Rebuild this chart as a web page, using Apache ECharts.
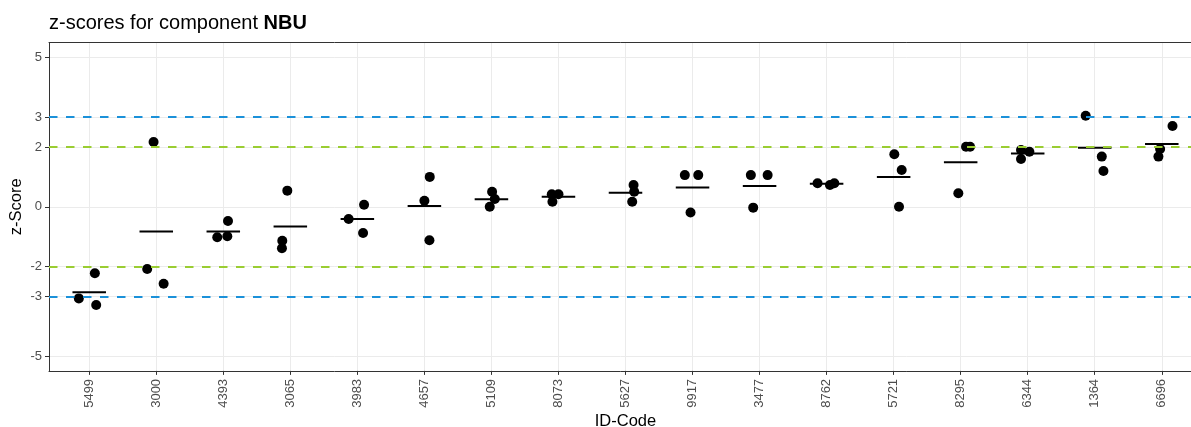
<!DOCTYPE html>
<html>
<head>
<meta charset="utf-8">
<script src="https://cdn.jsdelivr.net/npm/echarts@6/dist/echarts.min.js"></script>
<style>
html,body{margin:0;padding:0;background:#fff;}
#chart{width:1191px;height:427px;}
</style>
</head>
<body>
<div id="chart"></div>
<script>
// ---- data ----
const ids = ['5499','3000','4393','3065','3983','4657','5109','8073','5627','9917','3477','8762','5721','8295','6344','1364','6696'];
const zScores = [
  [-3.07, -2.23, -3.29],
  [-2.085, -2.58, 2.17],
  [-1.02, -0.99, -0.48],
  [0.54, -1.14, -1.39],
  [-0.41, 0.07, -0.88],
  [1.0, 0.20, -1.12],
  [0.50, 0.26, 0.0],
  [0.42, 0.42, 0.17],
  [0.73, 0.50, 0.17],
  [1.06, 1.06, -0.19],
  [1.06, 1.06, -0.03],
  [0.785, 0.73, 0.785],
  [1.76, 1.23, 0.0],
  [2.01, 2.01, 0.45],
  [1.90, 1.845, 1.60],
  [3.05, 1.68, 1.20],
  [2.705, 1.935, 1.68]
];
// horizontal jitter of each point, in category units
const jitter = [
  [-0.155, 0.084, 0.104],
  [-0.135, 0.11, -0.04],
  [-0.09, 0.06, 0.07],
  [-0.045, -0.12, -0.125],
  [-0.13, 0.10, 0.085],
  [0.08, 0.0, 0.075],
  [0.01, 0.05, -0.025],
  [-0.10, 0.0, -0.09],
  [0.12, 0.13, 0.10],
  [-0.115, 0.085, -0.03],
  [-0.13, 0.12, -0.095],
  [-0.135, 0.05, 0.115],
  [0.01, 0.12, 0.08],
  [0.08, 0.14, -0.035],
  [-0.10, 0.025, -0.10],
  [-0.135, 0.105, 0.13],
  [0.16, -0.025, -0.05]
];
const warnLimits = [-2, 2];
const actionLimits = [-3, 3];
const yTicks = [-5, -3, -2, 0, 2, 3, 5];
const titleText = 'z-scores for component ';
const componentName = 'NBU';

// ---- derived ----
const xPositions = ids.map((_, i) => i + 1);
const points = [];
zScores.forEach((vals, i) => vals.forEach((v, j) => points.push([xPositions[i] + jitter[i][j], v])));
const means = zScores.map((vals, i) => [xPositions[i], vals.reduce((a, b) => a + b, 0) / vals.length]);

const FONT = '"Liberation Sans", Arial, sans-serif';
const BORDER = '#333333';
const chart = echarts.init(document.getElementById('chart'), null, {renderer: 'canvas'});
chart.setOption({
  animation: false,
  backgroundColor: '#ffffff',
  title: {
    text: '{a|' + titleText + '}{b|' + componentName + '}',
    left: 44, top: 8,
    textStyle: {
      fontFamily: FONT, fontSize: 20, color: '#000', fontWeight: 'normal',
      rich: {
        a: {fontFamily: FONT, fontSize: 20, color: '#000', fontWeight: 'normal'},
        b: {fontFamily: FONT, fontSize: 20, color: '#000', fontWeight: 'bold'}
      }
    }
  },
  grid: {
    left: 49, top: 42.6, width: 1153, height: 328.3,
    outerBoundsMode: 'none', containLabel: false, show: false
  },
  xAxis: [{
    type: 'value', min: 0.4, max: 17.6, position: 'bottom',
    name: 'ID-Code', nameLocation: 'middle', nameGap: 42, nameMoveOverlap: false,
    nameTextStyle: {fontFamily: FONT, fontSize: 16.5, color: '#000'},
    axisLine: {show: true, onZero: false, lineStyle: {color: BORDER, width: 1}},
    axisTick: {show: true, customValues: xPositions, length: 4, lineStyle: {color: BORDER, width: 1}},
    axisLabel: {
      customValues: xPositions, rotate: 90, margin: 8,
      fontFamily: FONT, fontSize: 13, color: '#4D4D4D',
      formatter: v => ids[Math.round(v) - 1]
    },
    splitLine: {show: true, lineStyle: {color: '#EBEBEB', width: 1}}
  }, {
    type: 'value', min: 0.4, max: 17.6, position: 'top',
    axisLine: {show: true, onZero: false, lineStyle: {color: BORDER, width: 1}},
    axisTick: {show: false}, axisLabel: {show: false}, splitLine: {show: false}
  }],
  yAxis: {
    type: 'value', min: -5.5, max: 5.5, position: 'left',
    name: 'z-Score', nameLocation: 'middle', nameGap: 24, nameRotate: 90, nameMoveOverlap: false,
    nameTextStyle: {fontFamily: FONT, fontSize: 16.5, color: '#000'},
    axisLine: {show: true, onZero: false, lineStyle: {color: BORDER, width: 1}},
    axisTick: {show: true, customValues: yTicks, length: 4, lineStyle: {color: BORDER, width: 1}},
    axisLabel: {
      customValues: yTicks, margin: 7,
      fontFamily: FONT, fontSize: 13, color: '#4D4D4D'
    },
    splitLine: {show: true, lineStyle: {color: '#EBEBEB', width: 1}}
  },
  series: [
    {
      type: 'line', data: [], silent: true,
      markLine: {
        silent: true, symbol: 'none', label: {show: false},
        data: [
          ...actionLimits.map(v => ({yAxis: v, lineStyle: {color: '#1B91D9', type: [8.5, 8.5], width: 2}})),
          ...warnLimits.map(v => ({yAxis: v, lineStyle: {color: '#9ACD32', type: [8.5, 8.5], width: 2}}))
        ]
      },
      z: 1
    },
    {
      type: 'custom',
      data: means,
      renderItem: (params, api) => {
        const x = api.value(0), y = api.value(1);
        const p1 = api.coord([x - 0.25, y]);
        const p2 = api.coord([x + 0.25, y]);
        return {type: 'line', shape: {x1: p1[0], y1: p1[1], x2: p2[0], y2: p2[1]},
                style: {stroke: '#000', lineWidth: 2}};
      },
      z: 3
    },
    {
      type: 'scatter',
      data: points,
      symbol: 'circle', symbolSize: 10,
      itemStyle: {color: '#000', opacity: 1},
      z: 4
    }
  ]
});
</script>
</body>
</html>
